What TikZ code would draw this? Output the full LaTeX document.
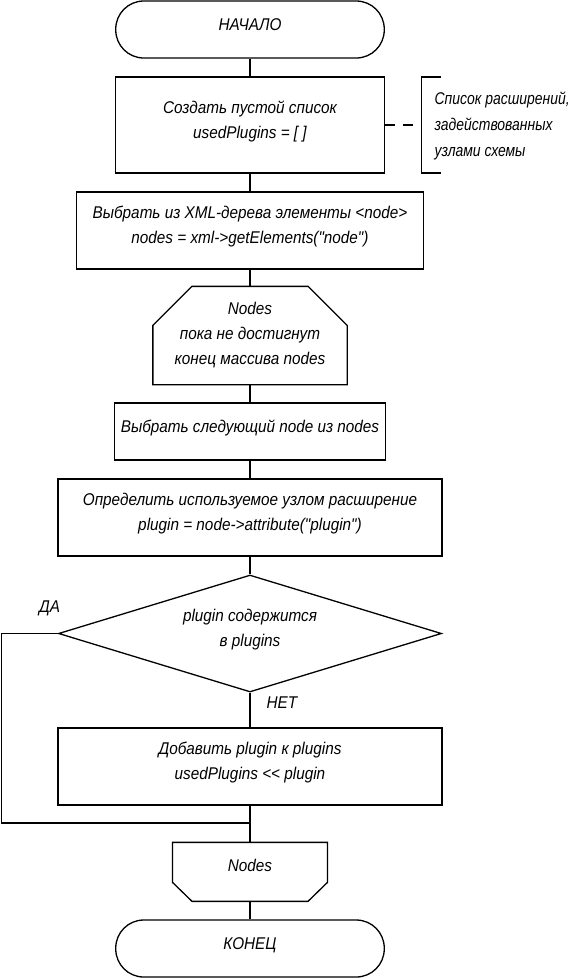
\documentclass[tikz,border=0pt]{standalone}
\usepackage{fontspec}
\newfontfamily\gost{Liberation Sans}[FakeStretch=0.9]
\newfontfamily\gostnote{Liberation Sans}[FakeStretch=0.82]
\usetikzlibrary{shapes.geometric,calc}
\begin{document}
\begin{tikzpicture}[x=1pt,y=-1pt, line width=1.3pt,
  txt/.style={font=\gost\itshape\fontsize{17}{25}\selectfont, align=center, inner sep=0pt},
  raised/.style={text depth=11pt},
  proc/.style={draw, txt, raised},
  term/.style={draw, txt, rounded corners=28pt, text depth=9pt},
  ghost/.style={txt},
  lbl/.style={txt},
  notetxt/.style={font=\gostnote\itshape\fontsize{17}{26}\selectfont, align=left, inner sep=0pt},
  decis/.style={draw, diamond, txt, raised, aspect=3.27},
  link/.style={line width=1.3pt},
  notelink/.style={line width=1.3pt, dash pattern=on 10pt off 8pt},
]
\useasboundingbox (0,0) rectangle (575,978);

% nodes
\node[term, minimum width=268.5pt, minimum height=57pt] (start) at (250,29.5) {НАЧАЛО};
\node[proc, minimum width=268.5pt, minimum height=96pt] (b1) at (250,125) {Создать пустой список\\usedPlugins = [ ]};
\node[proc, minimum width=347pt, minimum height=77pt] (b2) at (250,230.5) {Выбрать из XML-дерева элементы <node>\\nodes = xml->getElements("node")};
\node[ghost, minimum width=193pt, minimum height=97pt] (lp1) at (250,335.5) {Nodes\\пока не достигнут\\конец массива nodes};
\node[proc, minimum width=270.5pt, minimum height=57pt] (b3) at (250,431.5) {Выбрать следующий node из nodes};
\node[proc, minimum width=384pt, minimum height=77pt] (b4) at (250,517.5) {Определить используемое узлом расширение\\plugin = node->attribute("plugin")};
\node[decis, minimum width=383pt, minimum height=117pt] (d) at (250,633.5) {plugin содержится\\в plugins};
\node[proc, minimum width=384pt, minimum height=77pt] (b5) at (250,766.5) {Добавить plugin к plugins\\usedPlugins << plugin};
\node[ghost, text depth=14pt, minimum width=153.7pt, minimum height=57.7pt] (lp2) at (250,871.85) {Nodes};
\node[term, minimum width=268.5pt, minimum height=57pt] (stop) at (250,948.5) {КОНЕЦ};

% loop shapes
\draw (lp1.south west) -- ($(lp1.north west)+(0,39)$) -- ($(lp1.north west)+(39,0)$)
  -- ($(lp1.north east)+(-39,0)$) -- ($(lp1.north east)+(0,39)$) -- (lp1.south east) -- cycle;
\draw (lp2.north west) -- (lp2.north east) -- ($(lp2.south east)+(0,-19)$)
  -- ($(lp2.south east)+(-19.5,0)$) -- ($(lp2.south west)+(19.5,0)$)
  -- ($(lp2.south west)+(0,-19)$) -- cycle;

% comment bracket
\coordinate (brk) at (421.7,125);
\draw (441,77) -- (421.7,77) -- (421.7,173) -- (441,173);
\node[notetxt, anchor=west] (note) at (434,126) {Список расширений,\\задействованных\\узлами схемы};
\draw[notelink] (b1.east) -- (brk);

% connectors
\draw[link] (start.south) -- (b1.north);
\draw[link] (b1.south) -- (b2.north);
\draw[link] (b2.south) -- (lp1.north);
\draw[link] (lp1.south) -- (b3.north);
\draw[link] (b3.south) -- (b4.north);
\draw[link] (b4.south) -- (d.north);
\draw[link] (d.south) -- (b5.north);
\draw[link] (b5.south) -- (lp2.north);
\draw[link] (lp2.south) -- (stop.north);

\coordinate (lft) at (1.2,633.5);
\coordinate (join) at (250,823);
\draw[link] (d.west) -- (lft) |- (join);

\node[lbl] (yes) at (49.5,608) {ДА};
\node[lbl] (no) at (282,703) {НЕТ};
\end{tikzpicture}
\end{document}
